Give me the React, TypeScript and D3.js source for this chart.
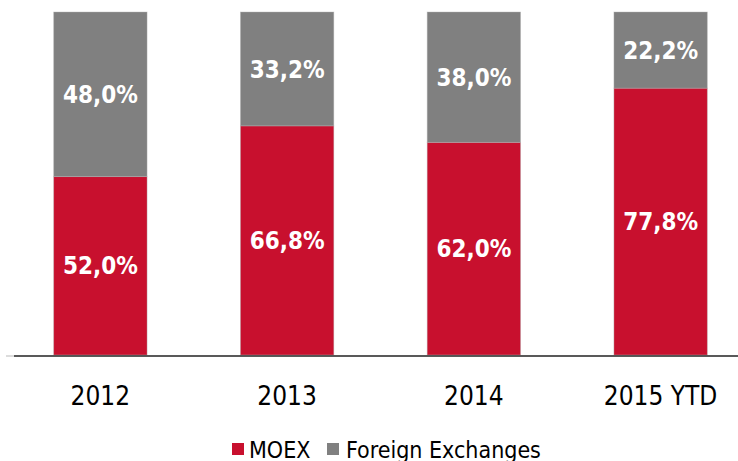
import React from "react";
import * as d3 from "d3";

const categories = ["2012", "2013", "2014", "2015 YTD"];
const moex = [52.0, 66.8, 62.0, 77.8];
const foreign = [48.0, 33.2, 38.0, 22.2];
const seriesNames = ["MOEX", "Foreign Exchanges"];
const colors = ["#C8102E", "#808080"];

const W = 738;
const H = 461;
const FONT = "'DejaVu Sans Condensed', 'DejaVu Sans', Verdana, sans-serif";

export default function App() {
  const x = d3
    .scaleBand<string>()
    .domain(categories)
    .range([7, 754])
    .paddingInner(0.5)
    .paddingOuter(0.25);
  const y = d3.scaleLinear().domain([0, 100]).range([355, 12]);

  const rows = categories.map((c, i) => ({ cat: c, MOEX: moex[i], Foreign: foreign[i] }));
  const stack = d3.stack<any>().keys(["MOEX", "Foreign"])(rows);
  const fmt = (v: number) => v.toFixed(1).replace(".", ",") + "%";

  return (
    <svg
      width={W}
      height={H}
      style={{ position: "absolute", left: 0, top: 0, background: "#fff" }}
    >
      {stack.map((layer, li) => (
        <g key={li}>
          {layer.map((d, i) => (
            <rect
              key={i}
              x={x(categories[i])}
              y={y(d[1])}
              width={x.bandwidth()}
              height={y(d[0]) - y(d[1])}
              fill={colors[li]}
              stroke="#b4b4b4"
              strokeOpacity={0.5}
              strokeWidth={0.8}
            />
          ))}
          {layer.map((d, i) => (
            <text
              key={"t" + i}
              x={(x(categories[i]) as number) + x.bandwidth() / 2}
              y={(y(d[0]) + y(d[1])) / 2}
              dy="0.36em"
              textAnchor="middle"
              fill="#fff"
              fontFamily={FONT}
              fontWeight="bold"
              fontSize={24}
            >
              {fmt(d[1] - d[0])}
            </text>
          ))}
        </g>
      ))}
      <line x1={6} x2={14} y1={356} y2={356} stroke="#d0d0d0" strokeWidth={1.5} />
      <line x1={14} x2={738} y1={356} y2={356} stroke="#222" strokeWidth={1.5} />
      {categories.map((c) => (
        <text
          key={c}
          x={(x(c) as number) + x.bandwidth() / 2}
          y={405}
          textAnchor="middle"
          fill="#000"
          fontFamily={FONT}
          fontSize={26}
        >
          {c}
        </text>
      ))}
      <g>
        <rect x={232} y={443} width={12} height={12} fill={colors[0]} />
        <text x={249} y={458} fontFamily={FONT} fontSize={23} fill="#000">
          {seriesNames[0]}
        </text>
        <rect x={327} y={443} width={12} height={12} fill={colors[1]} />
        <text x={346} y={458} fontFamily={FONT} fontSize={23} fill="#000">
          {seriesNames[1]}
        </text>
      </g>
    </svg>
  );
}
